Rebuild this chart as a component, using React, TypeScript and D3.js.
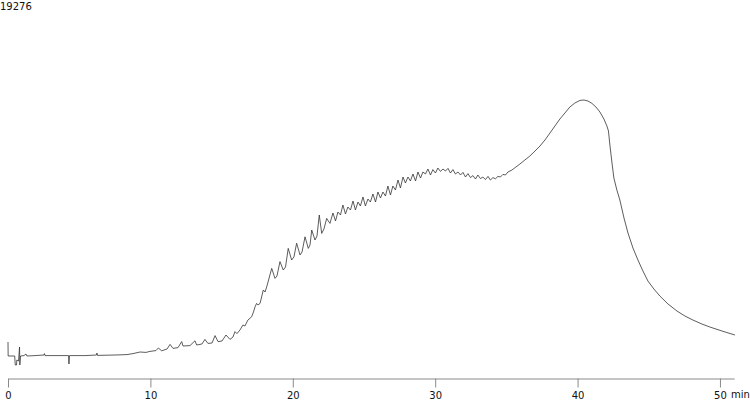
import * as d3 from 'd3'
import { useEffect, useRef, type ReactElement } from 'react'

type Sample = [number, number] // [minutes, signal]

// injection artefact at the very start
const injectionTrace: Sample[] = [
  [0, 1800], [0.01, 1100], [0.47, 1100], [0.51, 650], [0.6, 650], [0.62, 900],
  [0.74, 850], [0.81, 1550], [0.83, 650], [0.88, 1100],
]

const baselineTrace: Sample[] = [
  [1.12, 1120], [1.26, 1200], [1.33, 1100], [1.9, 1120], [2.53, 1150], [2.56, 1220],
  [2.6, 1120], [3.65, 1120], [4.25, 1120], [4.28, 700], [4.32, 1120], [5.41, 1120],
  [6.21, 1150], [6.25, 1250], [6.28, 1130], [7.51, 1150], [8.36, 1170],
]

const earlyPeaksTrace: Sample[] = [
  [8.78, 1220], [9.27, 1300], [9.69, 1280], [9.97, 1330], [10.39, 1370], [10.56, 1500],
  [10.79, 1360], [11.17, 1450], [11.38, 1680], [11.59, 1480], [11.94, 1520], [12.2, 1820],
  [12.29, 1600], [12.78, 1620], [13.13, 1860], [13.25, 1650], [13.62, 1700], [13.83, 1930],
  [14.04, 1730], [14.33, 1750], [14.54, 2120], [14.75, 1820], [15.03, 1850], [15.31, 2150],
  [15.59, 1930], [15.8, 2050], [15.94, 2320], [16.08, 2220], [16.29, 2400], [16.5, 2650],
  [16.64, 2600], [16.85, 2900], [17.11, 3060], [17.24, 3300], [17.35, 3560], [17.46, 3730],
  [17.56, 3650], [17.7, 3730], [17.93, 4400], [18.05, 4300], [18.17, 4560],
]

const ridgeTrace: Sample[] = [
  [18.52, 5480], [18.75, 4980], [18.89, 5100], [19.1, 5820], [19.33, 5400], [19.49, 5550],
  [19.68, 6480], [19.92, 5900], [20.08, 6050], [20.27, 6740], [20.51, 6150], [20.65, 6300],
  [20.86, 7060], [21.09, 6480], [21.21, 6650], [21.33, 7400], [21.56, 6900], [21.7, 7100],
  [21.86, 8150], [22.03, 7230], [22.19, 7450], [22.38, 7980], [22.61, 7730],
  [22.82, 8250], [23.0, 7850], [23.17, 8300], [23.35, 8150], [23.52, 8650], [23.7, 8200],
  [23.87, 8550], [24.05, 8400], [24.23, 8850], [24.4, 8400], [24.58, 8800], [24.75, 8600],
  [24.93, 9050], [25.1, 8600], [25.28, 8950], [25.45, 8800], [25.63, 9200], [25.81, 8800],
  [25.98, 9300], [26.16, 9000], [26.33, 9300], [26.51, 9100], [26.68, 9600], [26.86, 9150],
  [27.03, 9600], [27.21, 9400], [27.39, 9900], [27.56, 9500], [27.74, 10050], [27.91, 9750],
  [28.09, 10050], [28.26, 9850], [28.44, 10200], [28.62, 9850], [28.79, 10300], [28.97, 10000],
  [29.14, 10300], [29.32, 10200], [29.49, 10450], [29.67, 10150],
]

const plateauTrace: Sample[] = [
  [29.84, 10420], [30.02, 10250], [30.19, 10500], [30.37, 10330], [30.55, 10450], [30.72, 10350],
  [30.9, 10480], [31.07, 10250], [31.25, 10420], [31.42, 10200], [31.6, 10300], [31.78, 10150],
  [31.95, 10280], [32.13, 10050], [32.3, 10220], [32.48, 10020], [32.65, 10120], [32.83, 9950],
  [33.0, 10150], [33.18, 9970], [33.35, 10050], [33.53, 9920], [33.71, 10080], [33.88, 9900],
  [34.06, 10020], [34.23, 9960], [34.41, 10080], [34.58, 10050], [34.76, 10180], [34.93, 10150],
  [35.11, 10300],
]

const mainPeakTrace: Sample[] = [
  [35.39, 10400], [35.67, 10550], [35.95, 10700], [36.3, 10900], [36.65, 11100], [37.01, 11350],
  [37.36, 11600], [37.71, 11900], [38.06, 12250], [38.41, 12600], [38.76, 12950], [39.11, 13250],
  [39.46, 13550], [39.81, 13750], [40.17, 13880], [40.45, 13900], [40.73, 13850], [41.01, 13730],
  [41.29, 13550], [41.57, 13300], [41.85, 12950], [42.06, 12600], [42.17, 12350],
]

const tailTrace: Sample[] = [
  [42.27, 11650], [42.41, 10800], [42.55, 10000], [42.76, 9400], [42.97, 8900], [43.26, 8000],
  [43.54, 7250], [43.89, 6500], [44.24, 5900], [44.59, 5350], [44.94, 4850], [45.36, 4450],
  [45.78, 4100], [46.35, 3700], [46.98, 3350], [47.54, 3100], [48.1, 2900], [48.73, 2700],
  [49.29, 2550], [50.14, 2350], [51.05, 2150],
]

const minuteTicks = [0, 10, 20, 30, 40, 50]
const headerLabel = '19276'
const unitLabel = 'min'

const width = 750
const height = 400
const axisY = 378
const fontFamily = '"DejaVu Sans", Verdana, sans-serif'

export default function App(): ReactElement {
  const axisRef = useRef<SVGGElement>(null)

  const trace = [
    ...injectionTrace,
    ...baselineTrace,
    ...earlyPeaksTrace,
    ...ridgeTrace,
    ...plateauTrace,
    ...mainPeakTrace,
    ...tailTrace,
  ]

  const xScale = d3.scaleLinear().domain([0, 51]).range([8, 734.2])
  const yScale = d3.scaleLinear().domain([0, 18500]).range([axisY, 8])

  const line = d3
    .line<Sample>()
    .x((d) => xScale(d[0]))
    .y((d) => yScale(d[1]))

  useEffect(() => {
    const g = axisRef.current
    if (!g) {
      return
    }
    const axis = d3.axisBottom(xScale).tickValues(minuteTicks).tickSize(9).tickSizeOuter(0).tickPadding(4)
    const sel = d3.select(g)
    sel.selectAll('*').remove()
    sel.call(axis)
    sel.select('.domain').attr('stroke', '#8a8a8a')
    sel.selectAll('.tick line').attr('stroke', '#8a8a8a')
    sel
      .selectAll('.tick text')
      .attr('fill', '#111')
      .style('font-family', fontFamily)
      .style('font-size', '10px')
  }, [])

  return (
    <svg
      width={width}
      height={height}
      style={{ position: 'absolute', left: 0, top: 0, background: '#fff' }}
    >
      <text x={0} y={10} fontSize={10} fontFamily={fontFamily} fill="#111">
        {headerLabel}
      </text>
      <g ref={axisRef} transform={`translate(0,${axisY + 0.5})`} />
      <text x={731} y={398} fontSize={10} fontFamily={fontFamily} fill="#111">
        {unitLabel}
      </text>
      <path d={line(trace) ?? ''} fill="none" stroke="#333" strokeWidth={0.8} />
    </svg>
  )
}
